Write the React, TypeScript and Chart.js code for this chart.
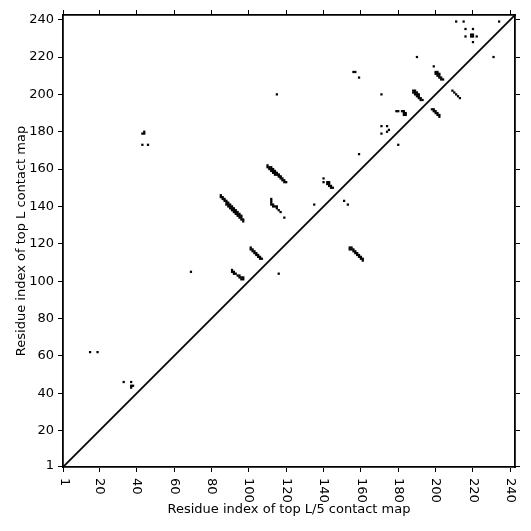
import React, { useEffect, useRef } from 'react';
import { Chart, registerables } from 'chart.js';

Chart.register(...registerables);

const AXIS_MIN = 0.5;
const AXIS_MAX = 242.5;
const TICK_VALUES = [1, 20, 40, 60, 80, 100, 120, 140, 160, 180, 200, 220, 240];
const TICK_LABELS = ['1', '20', '40', '60', '80', '100', '120', '140', '160', '180', '200', '220', '240'];
const X_TITLE = 'Residue index of top L/5 contact map';
const Y_TITLE = 'Residue index of top L contact map';

// contact pairs: residue index on x (CONTACT_I) and on y (CONTACT_J)
const CONTACT_I = [
  15, 19,
  33, 37, 37, 38, 37,
  44, 43, 44, 43, 46,
  69,
  85, 85, 86, 86, 87, 87, 88, 88, 89, 89, 90, 90, 91, 91, 92, 92, 93, 93, 94, 94, 95, 95, 96, 96, 96, 97, 97,
  88, 89, 90, 91, 92, 93, 94, 95,
  91, 91, 92, 92, 93, 94, 95, 95, 96, 96, 97, 97,
  101, 101, 102, 102, 103, 103, 104, 104, 105, 105, 106, 106, 107,
  110, 110, 111, 111, 112, 112, 113, 113, 114, 114, 115, 116, 116, 117, 117, 118, 118, 119, 119, 120,
  112, 113, 114, 115, 116, 117,
  112, 112, 112, 112, 113, 113, 114, 115, 115, 116, 117, 119,
  116,
  115,
  135,
  140, 140, 142, 142, 143, 143, 144, 144, 145, 143,
  151, 153,
  159,
  180,
  154, 155, 154, 155, 156, 156, 157, 157, 158, 158, 159, 159, 160, 160, 161, 161,
  156, 157, 159,
  171,
  171, 174, 171, 174, 175,
  179, 180, 182, 183, 183, 184, 184, 183,
  188, 188, 189, 189, 190, 190, 191, 191, 192, 192, 193, 189, 190, 191,
  198, 199, 199, 200, 200, 201, 201, 202, 202,
  199, 200, 200, 201, 201, 201, 202, 202, 202, 203, 203, 204,
  209, 210, 211, 212, 213,
  190, 231,
  211, 215, 234, 216, 220, 216, 219, 220, 219, 220, 222, 220,
];
const CONTACT_J = [
  62, 62,
  46, 46, 44, 44, 43,
  180, 179, 179, 173, 173,
  105,
  146, 145, 145, 144, 144, 143, 143, 142, 142, 141, 141, 140, 140, 139, 139, 138, 138, 137, 137, 136, 136, 135, 135, 134, 133, 133, 132,
  141, 140, 139, 138, 137, 136, 135, 134,
  106, 105, 105, 104, 104, 103, 103, 102, 102, 101, 101, 102,
  118, 117, 117, 116, 116, 115, 115, 114, 114, 113, 113, 112, 112,
  162, 161, 161, 160, 160, 159, 159, 158, 158, 157, 157, 157, 156, 156, 155, 155, 154, 154, 153, 153,
  161, 160, 159, 158, 157, 156,
  144, 143, 142, 141, 141, 140, 140, 140, 139, 138, 137, 134,
  104,
  200,
  141,
  155, 153, 153, 152, 152, 151, 151, 150, 150, 153,
  143, 141,
  168,
  173,
  118, 118, 117, 117, 116, 117, 116, 115, 115, 114, 114, 113, 113, 112, 112, 111,
  212, 212, 209,
  200,
  183, 183, 179, 180, 181,
  191, 191, 191, 191, 190, 190, 189, 189,
  202, 201, 201, 200, 200, 199, 199, 198, 198, 197, 197, 202, 201, 200,
  192, 192, 191, 191, 190, 190, 189, 189, 188,
  215, 212, 211, 212, 211, 210, 211, 210, 209, 209, 208, 208,
  202, 201, 200, 199, 198,
  220, 220,
  239, 239, 239, 235, 235, 231, 232, 232, 231, 231, 231, 228,
];

const DIAGONAL = [AXIS_MIN, AXIS_MAX];

const FONT = '13px "DejaVu Sans"';

const labelPlugin = {
  id: 'customLabels',
  afterDraw(chart: any) {
    const ctx = chart.ctx;
    const xs = chart.scales.x;
    const ys = chart.scales.y;
    ctx.save();
    ctx.fillStyle = '#000';
    ctx.font = FONT;
    // x tick labels, rotated clockwise
    TICK_VALUES.forEach((v, i) => {
      const px = xs.getPixelForValue(v);
      ctx.save();
      ctx.translate(px, ys.bottom + 11);
      ctx.rotate(Math.PI / 2);
      ctx.textAlign = 'left';
      ctx.textBaseline = 'middle';
      ctx.fillText(TICK_LABELS[i], 0, 0);
      ctx.restore();
    });
    // y tick labels
    ctx.textAlign = 'right';
    ctx.textBaseline = 'middle';
    TICK_VALUES.forEach((v, i) => {
      ctx.fillText(TICK_LABELS[i], xs.left - 9, ys.getPixelForValue(v));
    });
    // titles
    ctx.textAlign = 'center';
    ctx.textBaseline = 'alphabetic';
    ctx.fillText(X_TITLE, (xs.left + xs.right) / 2, 513);
    ctx.save();
    ctx.translate(25, (ys.top + ys.bottom) / 2);
    ctx.rotate(-Math.PI / 2);
    ctx.fillText(Y_TITLE, 0, 0);
    ctx.restore();
    ctx.restore();
  },
};

function axis(position: string, size: number) {
  const horizontal = position === 'top' || position === 'bottom';
  return {
    type: 'linear',
    position,
    min: AXIS_MIN,
    max: AXIS_MAX,
    afterBuildTicks: (s: any) => {
      s.ticks = TICK_VALUES.map((v) => ({ value: v }));
    },
    afterFit: (s: any) => {
      if (horizontal) s.height = size;
      else s.width = size;
    },
    ticks: { display: false },
    grid: {
      display: true,
      drawOnChartArea: false,
      drawTicks: true,
      tickLength: 5,
      color: '#000',
      lineWidth: 1,
    },
    border: { display: true, color: '#000', width: 1.8 },
    title: { display: false },
  };
}

export default function App() {
  const canvasRef = useRef<HTMLCanvasElement | null>(null);

  useEffect(() => {
    document.body.style.margin = '0';
    const canvas = canvasRef.current;
    if (!canvas) return;
    const points = CONTACT_I.map((x, i) => ({ x, y: CONTACT_J[i] }));
    const chart = new Chart(canvas, {
      type: 'scatter',
      data: {
        datasets: [
          {
            type: 'line',
            data: DIAGONAL.map((v) => ({ x: v, y: v })),
            borderColor: '#000',
            borderWidth: 1.8,
            pointRadius: 0,
            fill: false,
            showLine: true,
          } as any,
          {
            data: points,
            pointStyle: 'rect',
            pointRadius: 1.6,
            pointHoverRadius: 1.6,
            backgroundColor: '#000',
            borderWidth: 0,
          } as any,
        ],
      },
      options: {
        responsive: false,
        animation: false,
        devicePixelRatio: 1,
        layout: { padding: 0 },
        plugins: {
          legend: { display: false },
          tooltip: { enabled: false },
          title: { display: false },
        },
        events: [],
        scales: {
          x: axis('bottom', 64),
          x2: { ...axis('top', 15), axis: 'x' },
          y: axis('left', 63),
          y2: { ...axis('right', 16), axis: 'y' },
        } as any,
      },
      plugins: [labelPlugin],
    });
    return () => chart.destroy();
  }, []);

  return (
    <div style={{ width: 531, height: 531, background: '#fff' }}>
      <canvas ref={canvasRef} width={531} height={531} style={{ display: 'block' }} />
    </div>
  );
}
